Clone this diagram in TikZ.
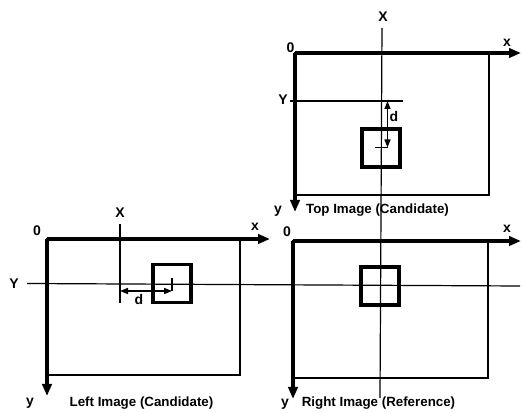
\documentclass[tikz,border=0pt]{standalone}
\usepackage{fontspec}
\setmainfont{Liberation Sans}
\usetikzlibrary{arrows.meta}
\tikzstyle{axis} = [line width=2.6pt, -{Triangle[length=9pt,width=7pt]}]
\tikzstyle{frame} = [line width=1.1pt]
\tikzstyle{guide} = [line width=0.9pt]
\tikzstyle{target} = [rectangle, draw, line width=2.4pt, minimum size=28.5pt, inner sep=0pt]
\tikzstyle{dist} = [line width=1.1pt, {Triangle[length=6pt,width=4.5pt]}-{Triangle[length=6pt,width=4.5pt]}]
\tikzstyle{lbl} = [inner sep=0pt, font=\fontsize{10.5}{12}\selectfont\bfseries]
\tikzstyle{caption} = [inner sep=0pt, font=\fontsize{10}{12}\selectfont\bfseries]

\begin{document}
\begin{tikzpicture}[x=0.75pt, y=-0.75pt]
    \useasboundingbox (0,0) rectangle (522,413);
    % top image (candidate)
    \coordinate (oT) at (295,53);
    \coordinate (xT) at (521,53);
    \coordinate (yT) at (295,212);
    \coordinate (fT) at (489,195);
    \draw [frame] (oT) rectangle (fT);
    \draw [axis] (oT) -- (xT);
    \draw [axis] (oT) -- (yT);
    \node (zeroT)[lbl] at (290.5,48) {0};
    \node (xlabT)[lbl] at (507,43) {x};
    \node (ylabT)[lbl] at (278,211) {y};
    \node (capT)[caption] at (377.5,210) {Top Image (Candidate)};
    \node (sqT)[target] at (381,148) {};
    \node (YlabT)[lbl] at (283,100) {Y};
    \coordinate (YaT) at (290,101);
    \coordinate (YbT) at (403,101);
    \draw [guide] (YaT) -- (YbT);
    \coordinate (dT1) at (387.5,101);
    \coordinate (dT2) at (387.5,147.5);
    \coordinate (tickT) at (375,147.5);
    \draw [dist] (dT1) -- (dT2);
    \draw [guide] (tickT) -- (dT2);
    \node (dlabT)[lbl] at (394,116) {d};

    % right image (reference)
    \coordinate (oR) at (293,241);
    \coordinate (xR) at (521,241);
    \coordinate (yR) at (293,399);
    \coordinate (fR) at (488,378);
    \draw [frame] (oR) rectangle (fR);
    \draw [axis] (oR) -- (xR);
    \draw [axis] (oR) -- (yR);
    \node (zeroR)[lbl] at (287,232) {0};
    \node (xlabR)[lbl] at (507,229) {x};
    \node (ylabR)[lbl] at (285,404) {y};
    \node (capR)[caption] at (378.5,403) {Right Image (Reference)};
    \node (sqR)[target] at (380,286) {};

    % left image (candidate)
    \coordinate (oL) at (47,239);
    \coordinate (xL) at (270,239);
    \coordinate (yL) at (47,396);
    \coordinate (fL) at (240,375);
    \draw [frame] (oL) rectangle (fL);
    \draw [axis] (oL) -- (xL);
    \draw [axis] (oL) -- (yL);
    \node (zeroL)[lbl] at (37,231) {0};
    \node (xlabL)[lbl] at (255,227) {x};
    \node (ylabL)[lbl] at (30,403) {y};
    \node (capL)[caption] at (141.5,403) {Left Image (Candidate)};
    \node (sqL)[target] at (172,283.5) {};
    \node (XlabL)[lbl] at (120,213) {X};
    \coordinate (XaL) at (120,224);
    \coordinate (XbL) at (120,303);
    \draw [guide] (XaL) -- (XbL);
    \coordinate (dL1) at (120,291);
    \coordinate (dL2) at (172,291);
    \coordinate (tickL) at (172,278);
    \draw [dist] (dL1) -- (dL2);
    \draw [guide] (tickL) -- (dL2);
    \node (dlabL)[lbl] at (139,299) {d};

    % shared lines
    \node (XlabT)[lbl] at (383,17) {X};
    \coordinate (Xa) at (382,28);
    \coordinate (Xb) at (380,398);
    \draw [guide] (Xa) -- (Xb);
    \node (YlabL)[lbl] at (14,284) {Y};
    \coordinate (Ya) at (27,283.5);
    \coordinate (Yb) at (520,286);
    \draw [guide] (Ya) -- (Yb);
\end{tikzpicture}
\end{document}
